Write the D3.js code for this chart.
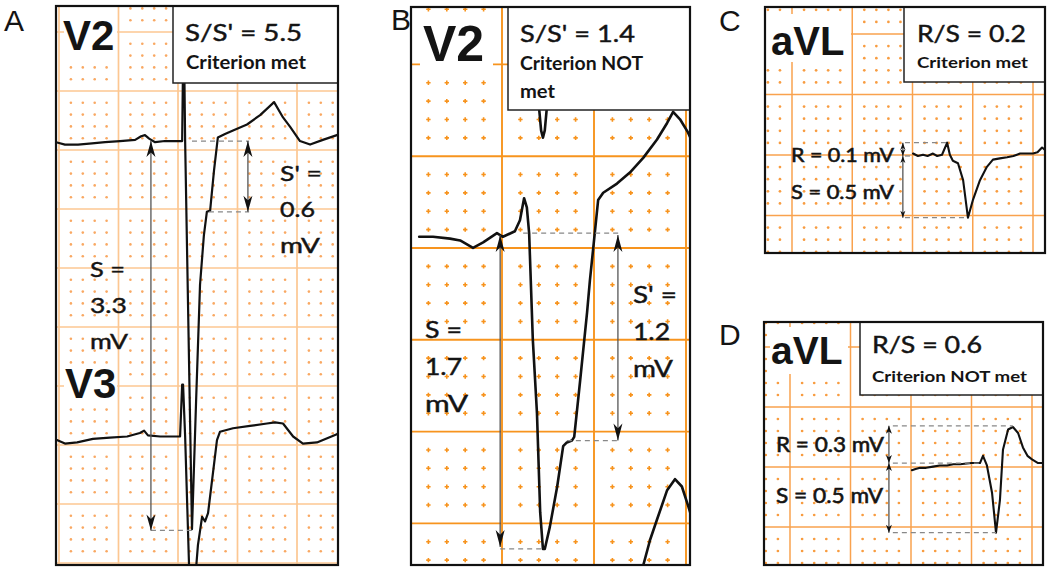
<!DOCTYPE html>
<html><head><meta charset="utf-8">
<script src="https://cdn.jsdelivr.net/npm/d3@7"></script>
<style>html,body{margin:0;padding:0;background:#fff;} svg{display:block}</style>
</head><body><svg id="c" width="1050" height="571"></svg>
<script>
// ================= DATA =================
const panelLetters = ["A", "B", "C", "D"];
const leadLabelsA = ["V2", "V3"];
const leadLabelsB = ["V2"];
const leadLabelsC = ["aVL"];
const leadLabelsD = ["aVL"];
const ratioLabels = ["S/S' = 5.5", "S/S' = 1.4", "R/S = 0.2", "R/S = 0.6"];
const verdictA = ["Criterion met"];
const verdictB = ["Criterion NOT", "met"];
const verdictC = ["Criterion met"];
const verdictD = ["Criterion NOT met"];
const measureTextA1 = ["S' =", "0.6", "mV"];
const measureTextA2 = ["S =", "3.3", "mV"];
const measureTextB1 = ["S =", "1.7", "mV"];
const measureTextB2 = ["S' =", "1.2", "mV"];
const measureTextC = ["R = 0.1 mV", "S = 0.5 mV"];
const measureTextD = ["R = 0.3 mV", "S = 0.5 mV"];

// lead baselines on the paper grid (mV)
const baselineA_V2 = 0.076, baselineA_V3 = -2.458, baselineB = 0.071, baselineC = -0.008, baselineD = 0.033;

// traces: [time ms, voltage mV relative to lead baseline]
const traceA_V2 = [[-10,-0.01],[20,-0.03],[64,-0.03],[111,-0.02],[155,-0.01],[205,0],[256,0.01],[276,0.04],[289,0.05],[303,0.02],[323,-0.01],[356,0],[407,0],[414,0],[419,1.1],[424,0],[447,-3.29],[461,-2.19],[474,-1.22],[487,-0.8],[497,-0.6],[508,-0.59],[521,-0.25],[534,0.03],[558,0.06],[585,0.09],[632,0.14],[676,0.22],[723,0.33],[753,0.2],[777,0.12],[810,0],[844,-0.03],[887,0.01],[934,0.05],[945,0.06]];
const traceA_V3 = [[-7,0],[20,-0.03],[61,-0.02],[114,0.01],[171,0.02],[229,0.03],[272,0.06],[286,0.08],[299,0.04],[340,0.03],[363,0.03],[407,0.03],[414,0.47],[417,0.47],[424,0.03],[440,-1.3],[454,-1.3],[467,-0.89],[481,-0.65],[491,-0.69],[501,-0.62],[531,0],[541,0.07],[585,0.1],[642,0.12],[699,0.14],[726,0.15],[753,0.14],[787,0.03],[820,-0.03],[867,-0.02],[934,0.05],[945,0.06]];
const traceB = [[20,-0.01],[50,-0.01],[87,-0.02],[109,-0.03],[137,-0.07],[159,-0.04],[189,0.01],[202,-0.01],[228,0.02],[239,0.08],[248,0.2],[254,0.15],[259,0.01],[267,-0.57],[276,-0.97],[283,-1.51],[289,-1.71],[293,-1.71],[304,-1.59],[320,-1.37],[333,-1.15],[341,-1.13],[352,-1.12],[357,-1.1],[370,-0.79],[385,-0.42],[391,-0.25],[398,-0.08],[409,0.19],[420,0.23],[450,0.28],[478,0.34],[507,0.42],[537,0.52],[559,0.61],[572,0.67],[587,0.63],[604,0.56],[615,0.5]];
const traceB_above = [[280,0.79],[281,0.68],[285,0.57],[289,0.53],[293,0.57],[297,0.68],[298,0.79]];
const traceB_below = [[505,-1.9],[507,-1.8],[522,-1.66],[537,-1.55],[559,-1.39],[576,-1.33],[591,-1.37],[604,-1.47],[615,-1.56]];
const traceC = [[402,0.02],[418,0.0],[435,0.01],[450,0.0],[468,0.02],[482,0.0],[498,0.01],[515,0.11],[524,0.01],[534,-0.04],[551,-0.06],[568,-0.2],[584,-0.51],[601,-0.36],[624,-0.2],[647,-0.09],[667,-0.03],[690,-0.02],[714,-0.01],[735,0.0],[757,0.02],[780,0.02],[800,0.02],[815,0.03],[830,0.07],[840,0.05],[850,0.05]];
const traceD = [[403,-0.06],[415,-0.05],[430,-0.04],[450,-0.04],[473,-0.03],[495,-0.02],[519,-0.02],[540,-0.01],[562,-0.01],[600,0],[628,0],[638,0.06],[651,-0.02],[668,-0.25],[681,-0.58],[694,-0.31],[704,0.11],[721,0.28],[737,0.3],[754,0.25],[770,0.13],[785,0.06],[800,0.03],[820,0],[840,0]];

// measurement arrows [t, vFrom, vTo] and dashed guides [tFrom, tTo, v]
const arrowsA = [[309, 0, -3.3], [635, 0, -0.6]];
const dashesA = [[309, 447, -3.3], [447, 639, 0], [504, 639, -0.6]];
const arrowsB = [[196, 0, -1.7], [452, 0, -1.12]];
const dashesB = [[246, 457, 0.01], [196, 289, -1.71], [341, 457, -1.12]];
const arrowsC = [[368, 0.11, 0], [368, 0, -0.51]];
const dashesC = [[375, 515, 0.11], [375, 402, 0], [375, 584, -0.51]];
const arrowsD = [[327, 0.31, 0], [327, 0, -0.58]];
const dashesD = [[340, 737, 0.31], [340, 638, 0], [340, 681, -0.58]];

// ================= LAYOUT / STYLE =================
const svg = d3.select('#c');
const defs = svg.append('defs');
const TXT = "Lato, 'Open Sans', sans-serif";
const BOLDF = "'Liberation Sans', Arial, sans-serif";

function makePanel(cfg) {
  const g = svg.append('g');
  const tMin = (cfg.left - cfg.x0) / cfg.pxMs, tMax = (cfg.right - cfg.x0) / cfg.pxMs;
  const vTop = (cfg.y0 - cfg.top) / cfg.pxMv, vBot = (cfg.y0 - cfg.bottom) / cfg.pxMv;
  const x = d3.scaleLinear().domain([tMin, tMax]).range([cfg.left, cfg.right]);
  const y = d3.scaleLinear().domain([vTop, vBot]).range([cfg.top, cfg.bottom]);
  const id = 'clip' + cfg.name;
  defs.append('clipPath').attr('id', id).append('rect')
    .attr('x', cfg.left).attr('y', cfg.top).attr('width', cfg.right - cfg.left).attr('height', cfg.bottom - cfg.top);
  const inner = g.append('g').attr('clip-path', `url(#${id})`);
  inner.append('rect').attr('x', cfg.left).attr('y', cfg.top).attr('width', cfg.right - cfg.left).attr('height', cfg.bottom - cfg.top).attr('fill', '#fff');
  const tk = d3.range(Math.ceil(tMin / 40), Math.floor(tMax / 40) + 1);
  const vk = d3.range(Math.ceil(vBot / 0.1), Math.floor(vTop / 0.1) + 1);
  const m5 = k => ((k % 5) + 5) % 5 === 0;
  const dots = [];
  tk.filter(k => !m5(k)).forEach(a => vk.filter(k => !m5(k)).forEach(b => dots.push([a * 40, b * 0.1])));
  const dg = inner.append('g');
  if (cfg.plus) {
    dg.selectAll('path').data(dots).join('path')
      .attr('d', d => { const px = x(d[0]), py = y(d[1]), s = cfg.dotR; return `M${px - s},${py}H${px + s}M${px},${py - s}V${py + s}`; })
      .attr('stroke', cfg.dotColor).attr('stroke-width', 1.6);
  } else {
    dg.selectAll('circle').data(dots).join('circle')
      .attr('cx', d => x(d[0])).attr('cy', d => y(d[1])).attr('r', cfg.dotR).attr('fill', cfg.dotColor);
  }
  const lg = inner.append('g').attr('stroke', cfg.lineColor).attr('stroke-width', cfg.lineW);
  lg.selectAll('.v').data(tk.filter(m5)).join('line').attr('class', 'v')
    .attr('x1', k => x(k * 40)).attr('x2', k => x(k * 40)).attr('y1', cfg.top).attr('y2', cfg.bottom);
  lg.selectAll('.h').data(vk.filter(m5)).join('line').attr('class', 'h')
    .attr('y1', k => y(k * 0.1)).attr('y2', k => y(k * 0.1)).attr('x1', cfg.left).attr('x2', cfg.right);
  return { g, inner, x, y, cfg };
}

function whiteRect(p, x0, y0, x1, y1) {
  p.inner.append('rect').attr('x', x0).attr('y', y0).attr('width', x1 - x0).attr('height', y1 - y0).attr('fill', '#fff');
}
function text(g, s, x, y, size, opt = {}) {
  const t = g.append('text').attr('x', x).attr('y', y).text(s)
    .attr('font-family', opt.family || TXT).attr('font-size', size)
    .attr('font-weight', opt.weight || 'normal').attr('fill', opt.fill || '#141414');
  if (opt.len) t.attr('textLength', opt.len).attr('lengthAdjust', 'spacingAndGlyphs');
  if (opt.stroke) t.attr('stroke', opt.fill || '#141414').attr('stroke-width', opt.stroke);
  return t;
}
function trace(p, data, base, w) {
  const line = d3.line().x(d => p.x(d[0])).y(d => p.y(d[1] + base));
  p.inner.append('path').datum(data).attr('d', line).attr('fill', 'none')
    .attr('stroke', '#111').attr('stroke-width', w).attr('stroke-linejoin', 'round').attr('stroke-linecap', 'round');
}
function head(g, px, py, dir, w, l) {
  g.append('path').attr('d', `M${px},${py}L${px - w / 2},${py - dir * l}L${px},${py - dir * l * 0.72}L${px + w / 2},${py - dir * l}Z`).attr('fill', '#111');
}
function arrows(p, data, base, w, l) {
  data.forEach(a => {
    const px = p.x(a[0]), y1 = p.y(a[1] + base), y2 = p.y(a[2] + base);
    p.g.append('line').attr('x1', px).attr('x2', px).attr('y1', y1).attr('y2', y2).attr('stroke', '#555').attr('stroke-width', 1.3);
    const up = y1 < y2 ? -1 : 1;
    head(p.g, px, y1, up, w, l);
    head(p.g, px, y2, -up, w, l);
  });
}
function dashes(p, data, base) {
  data.forEach(d => {
    p.g.append('line').attr('x1', p.x(d[0])).attr('x2', p.x(d[1])).attr('y1', p.y(d[2] + base)).attr('y2', p.y(d[2] + base))
      .attr('stroke', '#888').attr('stroke-width', 1.3).attr('stroke-dasharray', '5,4');
  });
}
function box(g, x0, y0, x1, y1) {
  g.append('rect').attr('x', x0).attr('y', y0).attr('width', x1 - x0).attr('height', y1 - y0)
    .attr('fill', '#fff').attr('stroke', '#222').attr('stroke-width', 1.5);
}
function frame(p) {
  const c = p.cfg;
  p.g.append('rect').attr('x', c.left).attr('y', c.top).attr('width', c.right - c.left).attr('height', c.bottom - c.top)
    .attr('fill', 'none').attr('stroke', '#111').attr('stroke-width', 2.2);
}
const ST = 0.45; // slight stroke to match heavier rendering

// ---------- Panel A ----------
const A = makePanel({ name: 'A', left: 56, top: 6, right: 338, bottom: 565, x0: 59, pxMs: 0.2975, y0: 150, pxMv: 118,
  lineColor: '#fcc792', lineW: 1.7, dotColor: '#f9a862', dotR: 1.3 });
whiteRect(A, 64, 6, 117, 61);
whiteRect(A, 64, 366, 117, 401);
text(A.g, leadLabelsA[0], 63, 50, 42, { family: BOLDF, weight: 'bold' });
text(A.g, leadLabelsA[1], 65, 398, 42, { family: BOLDF, weight: 'bold' });
trace(A, traceA_V3, baselineA_V3, 2.2);
trace(A, traceA_V2, baselineA_V2, 2.2);
dashes(A, dashesA, baselineA_V2);
arrows(A, arrowsA, baselineA_V2, 9, 16);
const wA1 = [42, 35, 40], wA2 = [35, 37, 38];
measureTextA1.forEach((s, i) => text(A.g, s, 280, 181 + i * 36, 22, { len: wA1[i], stroke: ST }));
measureTextA2.forEach((s, i) => text(A.g, s, 90, 277 + i * 36, 22, { len: wA2[i], stroke: ST }));
box(A.g, 173, 6, 338, 83);
text(A.g, ratioLabels[0], 185, 41, 23, { len: 117, stroke: ST });
text(A.g, verdictA[0], 186, 69, 18, { weight: 'bold', len: 120 });
frame(A);
text(svg, panelLetters[0], 4, 31, 30, { family: BOLDF });

// ---------- Panel B ----------
const B = makePanel({ name: 'B', left: 411, top: 7, right: 690, bottom: 565, x0: 410, pxMs: 0.46, y0: 248, pxMv: 183.6,
  lineColor: '#f7941e', lineW: 1.9, dotColor: '#f7931d', dotR: 2.2, plus: true });
whiteRect(B, 420, 15, 493, 74);
text(B.g, leadLabelsB[0], 423, 61, 50, { family: BOLDF, weight: 'bold' });
trace(B, traceB_above, baselineB, 2.6);
trace(B, traceB_below, baselineB, 2.6);
trace(B, traceB, baselineB, 2.6);
dashes(B, dashesB, baselineB);
arrows(B, arrowsB, baselineB, 9, 17);
const wB1 = [37, 37, 43], wB2 = [44, 37, 40];
measureTextB1.forEach((s, i) => text(B.g, s, 425, 338 + i * 37, 23, { len: wB1[i], stroke: ST }));
measureTextB2.forEach((s, i) => text(B.g, s, 633, 303 + i * 37, 23, { len: wB2[i], stroke: ST }));
box(B.g, 508, 7, 690, 110);
text(B.g, ratioLabels[1], 520, 42, 24, { len: 115, stroke: ST });
const wBv = [123, 35];
verdictB.forEach((s, i) => text(B.g, s, 520, 70 + i * 28, 18, { weight: 'bold', len: wBv[i] }));
frame(B);
text(svg, panelLetters[1], 391, 30, 30, { family: BOLDF });

// ---------- Panel C ----------
const C = makePanel({ name: 'C', left: 765, top: 7, right: 1045, bottom: 253, x0: 792, pxMs: 0.30125, y0: 155, pxMv: 121,
  lineColor: '#f9a24e', lineW: 1.5, dotColor: '#f89c40', dotR: 1.35 });
whiteRect(C, 765, 14, 851, 62);
text(C.g, leadLabelsC[0], 771, 55, 40, { family: BOLDF, weight: 'bold' });
trace(C, traceC, baselineC, 2.1);
dashes(C, dashesC, baselineC);
arrows(C, arrowsC, baselineC, 5, 7);
measureTextC.forEach((s, i) => text(C.g, s, 791, 162 + i * 37, 20, { len: 103, stroke: 0.6 }));
box(C.g, 904, 7, 1045, 82);
text(C.g, ratioLabels[2], 917, 42, 24, { len: 109, stroke: ST });
text(C.g, verdictC[0], 917, 68, 16, { weight: 'bold', len: 111 });
frame(C);
text(svg, panelLetters[2], 719, 31, 30, { family: BOLDF });

// ---------- Panel D ----------
const D = makePanel({ name: 'D', left: 764, top: 322, right: 1043, bottom: 565, x0: 790, pxMs: 0.3025, y0: 467, pxMv: 120,
  lineColor: '#f9a24e', lineW: 1.5, dotColor: '#f89c40', dotR: 1.35 });
whiteRect(D, 770, 327, 848, 374);
text(D.g, leadLabelsD[0], 771, 364, 39, { family: BOLDF, weight: 'bold' });
trace(D, traceD, baselineD, 2.1);
dashes(D, dashesD, baselineD);
arrows(D, arrowsD, baselineD, 6, 8);
const wD = [108, 107];
measureTextD.forEach((s, i) => text(D.g, s, 776, 452 + i * 51, 21, { len: wD[i], stroke: 0.6 }));
box(D.g, 860, 322, 1043, 395);
text(D.g, ratioLabels[3], 872, 353, 23, { len: 110, stroke: ST });
text(D.g, verdictD[0], 872, 382, 16, { weight: 'bold', len: 155 });
frame(D);
text(svg, panelLetters[3], 719, 345, 30, { family: BOLDF });
</script>
</body></html>
